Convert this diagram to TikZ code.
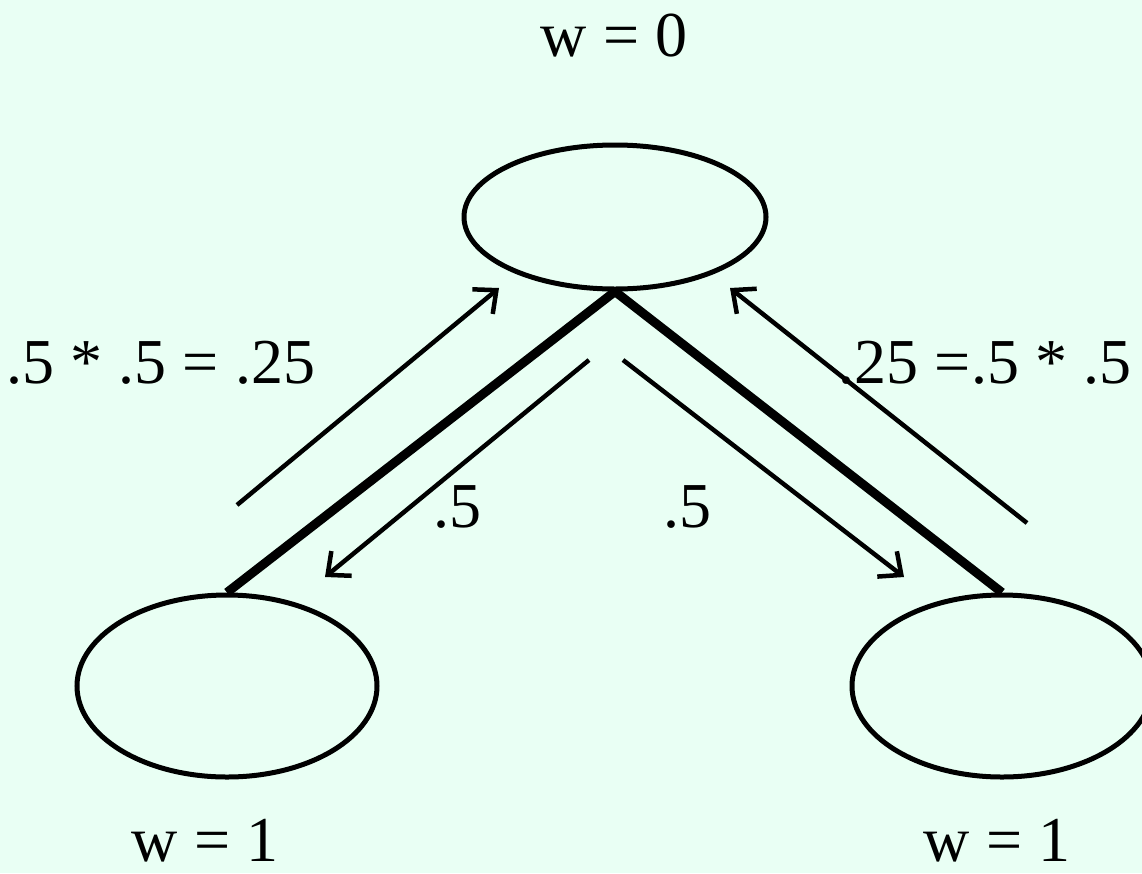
\documentclass[tikz,border=0pt]{standalone}
\usepackage{fontspec}
\setmainfont{Liberation Serif}
\usepackage{xcolor}
\definecolor{mintbg}{HTML}{E9FFF4}
\usetikzlibrary{arrows.meta,shapes.geometric}
\tikzset{
  st/.style={draw, ellipse, line width=5pt, inner sep=0pt},
  lbl/.style={inner sep=0pt, anchor=base, font=\fontsize{64}{76}\selectfont},
  edge/.style={line width=9pt},
  ar/.style={-{Straight Barb[length=18pt,width=32pt]}, line width=4.5pt},
}

\begin{document}
\begin{tikzpicture}[x=1pt, y=-1pt]
  \fill[mintbg] (0,0) rectangle (1142,873);
  \useasboundingbox (0,0) rectangle (1142,873);
  % states
  \node[st, minimum width=302pt, minimum height=144pt] (top) at (615,217) {};
  \node[st, minimum width=300pt, minimum height=182pt] (bl) at (227,686) {};
  \node[st, minimum width=300pt, minimum height=182pt] (br) at (1002,686) {};
  \node[lbl] (wtop) at (614,56) {w = 0};
  \node[lbl] (wbl) at (205,861) {w = 1};
  \node[lbl] (wbr) at (997,861) {w = 1};
  % tree edges
  \draw[edge] (top.south) -- (bl.north);
  \draw[edge] (top.south) -- (br.north);
  % flow arrows
  \coordinate (lu1) at (237,505);
  \coordinate (lu2) at (499,288);
  \coordinate (ld1) at (589,360);
  \coordinate (ld2) at (325,577);
  \coordinate (rd1) at (623,360);
  \coordinate (rd2) at (904,577);
  \coordinate (ru1) at (1027,523);
  \coordinate (ru2) at (730,288);
  \draw[ar] (lu1) -- (lu2);
  \draw[ar] (ld1) -- (ld2);
  \draw[ar] (rd1) -- (rd2);
  \draw[ar] (ru1) -- (ru2);
  \node[lbl] (pl) at (161,383) {.5 * .5 = .25};
  \node[lbl] (pr) at (985,383) {.25 =.5 * .5};
  \node[lbl] (hl) at (457,527) {.5};
  \node[lbl] (hr) at (687,527) {.5};
\end{tikzpicture}
\end{document}
